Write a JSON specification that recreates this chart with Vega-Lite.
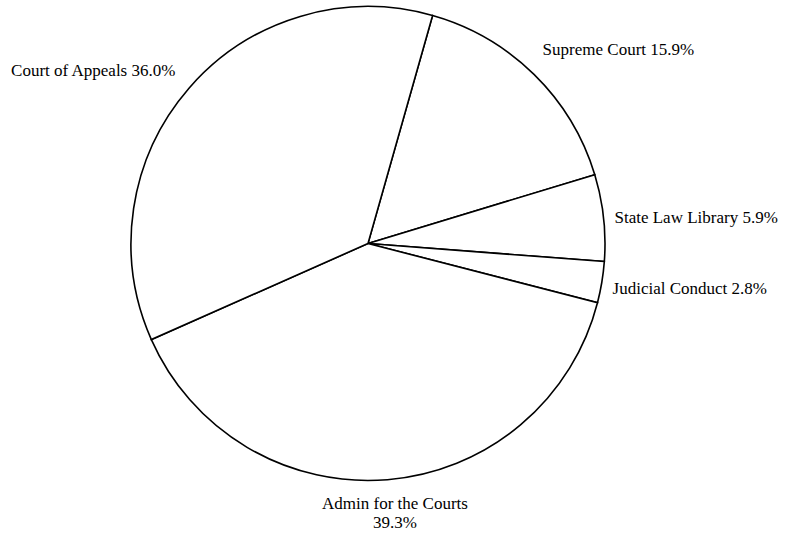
{
  "$schema": "https://vega.github.io/schema/vega-lite/v6.json",
  "width": 736,
  "height": 487,
  "autosize": {"type": "none"},
  "padding": {"left": 0, "top": 0, "right": 56, "bottom": 48},
  "background": "white",
  "config": {"view": {"stroke": null}},
  "data": {
    "values": [
      {"name": "Supreme Court", "pct": 15.9, "order": 1, "label": "Supreme Court 15.9%"},
      {"name": "State Law Library", "pct": 5.9, "order": 2, "label": "State Law Library 5.9%"},
      {"name": "Judicial Conduct", "pct": 2.8, "order": 3, "label": "Judicial Conduct 2.8%"},
      {"name": "Admin for the Courts", "pct": 39.3, "order": 4, "label": "Admin for the Courts\n39.3%"},
      {"name": "Court of Appeals", "pct": 36.0, "order": 5, "label": "Court of Appeals 36.0%"}
    ]
  },
  "encoding": {
    "theta": {"field": "pct", "type": "quantitative", "stack": true, "scale": {"range": [0.276, 6.5592]}},
    "order": {"field": "order", "type": "quantitative"}
  },
  "layer": [
    {
      "mark": {"type": "arc", "outerRadius": 237, "fill": "white", "stroke": "black", "strokeWidth": 1.6}
    },
    {
      "mark": {
        "type": "text",
        "font": "Liberation Serif",
        "fontSize": 17,
        "color": "black",
        "lineBreak": "\n",
        "lineHeight": 19,
        "radius": 255,
        "align": {"expr": "datum.name == 'Court of Appeals' ? 'right' : (datum.name == 'Admin for the Courts' ? 'center' : 'left')"},
        "dx": {"expr": "datum.name == 'Court of Appeals' ? 0 : datum.name == 'Supreme Court' ? -4 : datum.name == 'State Law Library' ? -7 : datum.name == 'Judicial Conduct' ? -7 : 6"},
        "dy": {"expr": "datum.name == 'Court of Appeals' ? -5 : datum.name == 'Supreme Court' ? -12 : datum.name == 'State Law Library' ? 2 : datum.name == 'Judicial Conduct' ? 4 : 6"},
        "baseline": "middle"
      },
      "encoding": {
        "text": {"field": "label", "type": "nominal"}
      }
    }
  ]
}
